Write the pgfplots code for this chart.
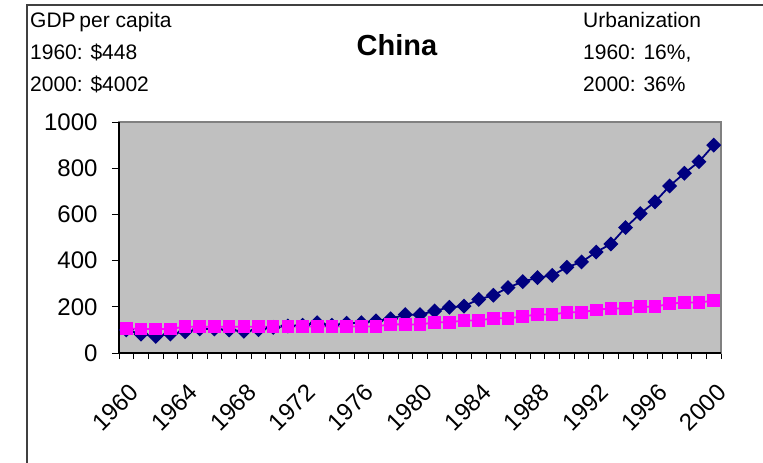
\documentclass[border=0pt]{standalone}
\usepackage{fontspec}
\setmainfont{Liberation Sans}
\usepackage{pgfplots}
\pgfplotsset{compat=1.18}
\definecolor{plotgray}{HTML}{C0C0C0}
\definecolor{gdpblue}{HTML}{000080}
\definecolor{urbpink}{HTML}{FF00FF}
\begin{document}
\begin{tikzpicture}[x=1pt,y=1pt]
\useasboundingbox (0,0) rectangle (763,463);
% outer chart frame (cut off at right and bottom)
\draw[line width=1.5pt, black!75] (27,-5) -- (27,458) -- (770,458);
% header texts
\begin{scope}[every node/.style={anchor=base west, inner sep=0pt, font=\fontsize{21}{26}\selectfont}]
\node at (30,435) {GDP\kern-0.1em{} per capita};
\node at (30,403) {1960: \$448};
\node at (30,371) {2000: \$4002};
\node at (583,435) {Urbanization};
\node at (583,403) {1960: 16\%,};
\node at (583,371) {2000: 36\%};
\end{scope}
\node[anchor=base, inner sep=0pt, font=\fontsize{29}{34}\selectfont\bfseries] at (397,407) {China};

\begin{axis}[
  at={(119pt,110pt)}, anchor=south west,
  scale only axis, width=602pt, height=231pt,
  xmin=1959.5, xmax=2000.5, ymin=0, ymax=1000,
  xtick={1960,1964,...,2000},
  minor xtick={1959.5,1960.5,...,2000.5},
  ytick={0,200,...,1000},
  xtick pos=bottom, ytick pos=left,
  tick align=outside,
  major tick length=7pt, minor tick length=6pt,
  tick style={black, line width=0.8pt},
  major x tick style={draw=none},
  axis line style={draw=black!50, line width=1.2pt},
  axis background/.style={fill=plotgray},
  /pgf/number format/1000 sep={},
  /pgf/number format/assume math mode=true,
  tick label style={font=\fontsize{24}{28}\selectfont},
  xticklabel style={rotate=45, anchor=east, yshift=-26pt, xshift=-11pt},
  yticklabel style={xshift=-11pt},
  clip=false,
]
\addplot[gdpblue, line width=1.8pt, mark=square*, mark size=4.4pt,
  mark options={rotate=45, fill=gdpblue, draw=gdpblue}] coordinates {
  (1960,100) (1961,82) (1962,72) (1963,82) (1964,92) (1965,104)
  (1966,104) (1967,100) (1968,94) (1969,101) (1970,111) (1971,117)
  (1972,120) (1973,131) (1974,120) (1975,129) (1976,131) (1977,139)
  (1978,148) (1979,166) (1980,166) (1981,182) (1982,198) (1983,203)
  (1984,232) (1985,250) (1986,283) (1987,309) (1988,326) (1989,336)
  (1990,371) (1991,394) (1992,437) (1993,472) (1994,543) (1995,603)
  (1996,654) (1997,723) (1998,778) (1999,828) (2000,900)
};
\addplot[urbpink, line width=1.8pt, mark=square*, mark size=5.4pt,
  mark options={fill=urbpink, draw=urbpink}] coordinates {
  (1960,106) (1961,104) (1962,104) (1963,104) (1964,114) (1965,114)
  (1966,114) (1967,114) (1968,114) (1969,114) (1970,114) (1971,115)
  (1972,115) (1973,115) (1974,115) (1975,115) (1976,115) (1977,115)
  (1978,124) (1979,124) (1980,123) (1981,133) (1982,133) (1983,141)
  (1984,141) (1985,150) (1986,150) (1987,158) (1988,167) (1989,167)
  (1990,176) (1991,176) (1992,187) (1993,193) (1994,193) (1995,200)
  (1996,200) (1997,213) (1998,219) (1999,219) (2000,226)
};
\draw[black, line width=1.2pt] (rel axis cs:0,1) -- (rel axis cs:0,0) -- (rel axis cs:1,0);
\end{axis}
\end{tikzpicture}
\end{document}
